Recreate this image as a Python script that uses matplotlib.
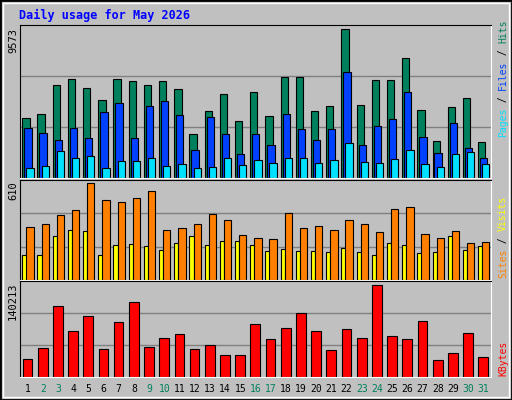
import matplotlib
matplotlib.use("Agg")
import matplotlib.pyplot as plt
import numpy as np

days = list(range(1, 32))
weekend = [2, 3, 9, 10, 16, 17, 23, 24, 30, 31]
hits = [3855, 4115, 5999, 6389, 5804, 5025, 6389, 6259, 5999, 6259, 5739, 2816, 4310, 5415, 3660, 5545,
        3985, 6519, 6519, 4310, 4635, 9573, 4700, 6324, 6324, 7754, 4375, 2361, 4570, 5155, 2296]
files = [3205, 2881, 2426, 3205, 2556, 4245, 4830, 2556, 4635, 4960, 4050, 1776, 3920, 2816, 1516, 2816,
         2101, 4115, 3140, 2426, 3140, 6844, 2101, 3335, 3790, 5545, 2621, 1581, 3530, 1906, 1321]
pages = [671, 801, 1711, 1321, 1386, 671, 1126, 1126, 1321, 801, 931, 671, 736, 1321, 866, 1191,
         996, 1321, 1321, 996, 1191, 2231, 1061, 996, 1256, 1776, 931, 736, 1516, 1646, 931]
visits = [330, 350, 410, 437, 610, 503, 490, 517, 557, 317, 324, 350, 417, 377, 284, 264,
          257, 424, 324, 337, 317, 377, 350, 304, 444, 457, 291, 264, 311, 231, 237]
sites = [158, 158, 277, 317, 311, 158, 217, 224, 211, 191, 231, 277, 217, 244, 244, 217,
         184, 197, 184, 184, 177, 204, 177, 158, 231, 217, 171, 177, 277, 191, 211]
kbytes = [27734, 44683, 107856, 69336, 92448, 43142, 83203, 114019, 46224, 58550, 64713, 43142, 49306,
          33897, 33897, 80122, 57010, 73958, 97070, 69336, 41601, 72417, 58550, 140213, 61632, 57010,
          84744, 26193, 36979, 66254, 30816]

C_HITS, C_FILES, C_PAGES = "#00805c", "#0040ff", "#00e0ff"
C_VISITS, C_SITES, C_KB = "#ff8000", "#ffff00", "#ff0000"
BG = "#c0c0c0"
MONO = "DejaVu Sans Mono"

W, H = 512, 400
fig = plt.figure(figsize=(W / 100, H / 100), dpi=100, facecolor=BG)
fig.patches.append(plt.Rectangle((0, 0), 1, 1, transform=fig.transFigure, fill=False,
                                 edgecolor="black", linewidth=2))
fig.patches.append(plt.Rectangle((3 / W, 3 / H), 1 - 6 / W, 1 - 6 / H, transform=fig.transFigure,
                                 fill=False, edgecolor="white", linewidth=1))


def panel(top, bottom, ymax):
    ax = fig.add_axes([20 / W, 1 - bottom / H, 471 / W, (bottom - top) / H], facecolor=BG)
    ax.set_xlim(0.5, 31.5)
    ax.set_ylim(0, ymax)
    ax.set_xticks([])
    ax.set_yticks([])
    for f in (1 / 3, 2 / 3):
        ax.axhline(f * ymax, color="#808080", linewidth=1, zorder=0)
    ax.spines["left"].set_color("black")
    ax.spines["top"].set_color("black")
    ax.spines["right"].set_color("white")
    ax.spines["bottom"].set_color("white")
    return ax


x = np.array(days)
kw = dict(align="edge", edgecolor="black", linewidth=0.8)

ax1 = panel(25, 178, max(hits) * 1.03)
ax1.bar(x - 0.35, hits, 0.48, color=C_HITS, **kw)
ax1.bar(x - 0.22, files, 0.48, color=C_FILES, **kw)
ax1.bar(x - 0.08, pages, 0.48, color=C_PAGES, **kw)

ax2 = panel(180, 280, max(visits) * 1.03)
ax2.bar(x - 0.35, sites, 0.28, color=C_SITES, **kw)
ax2.bar(x - 0.08, visits, 0.48, color=C_VISITS, **kw)

ax3 = panel(281, 377, max(kbytes) * 1.04)
ax3.bar(x - 0.33, kbytes, 0.64, color=C_KB, **kw)

# day labels
for d in days:
    xf = (20 + (d - 0.5) * 471 / 31) / W
    fig.text(xf, 1 - 389 / H, str(d), ha="center", va="center", fontsize=7, family=MONO,
             color=C_HITS if d in weekend else "black")

# title and max labels
fig.text(19 / W, 1 - 15 / H, "Daily usage for May 2026", fontsize=8.5, family=MONO,
         weight="bold", color="#0000ff", va="center")
for top, val in ((28, max(hits)), (181, max(visits)), (283, max(kbytes))):
    fig.text(18 / W, 1 - top / H, str(val), rotation=90, ha="right", va="top", fontsize=7.5,
             family=MONO, color="black")

# right-side legends (rotated, bottom to top)
FS = 7
CH = 0.602 * FS * 100 / 72


def vlegend(bottom, parts):
    y = bottom
    for txt, col in parts:
        fig.text(503 / W, 1 - y / H, txt, rotation=90, ha="center", va="bottom", fontsize=FS,
                 family=MONO, color=col)
        y -= len(txt) * CH


vlegend(137, [("Pages", C_PAGES), (" / ", "black"), ("Files", C_FILES), (" / ", "black"), ("Hits", C_HITS)])
vlegend(278, [("Sites", C_VISITS), (" / ", "black"), ("Visits", C_SITES)])
vlegend(376, [("KBytes", C_KB)])

fig.savefig("out.png", dpi=100, facecolor=BG)
